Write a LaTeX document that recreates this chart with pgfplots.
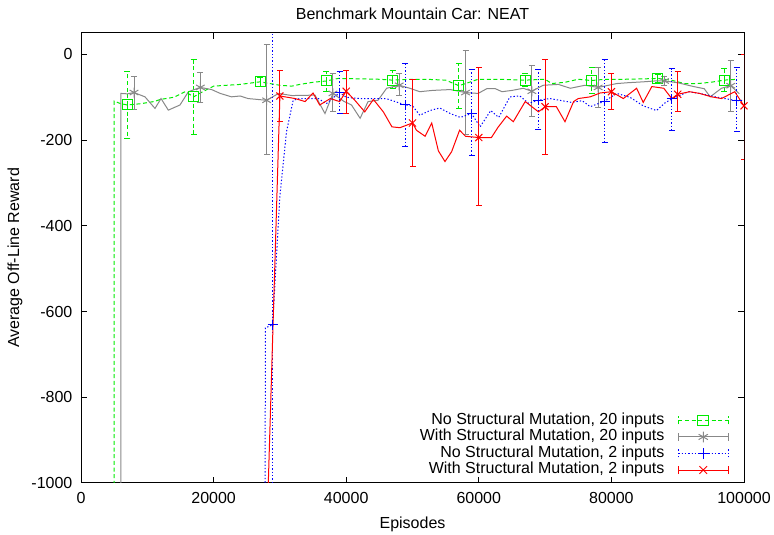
\documentclass[border=0pt]{standalone}
\usepackage{fontspec}
\setmainfont{Liberation Sans}
\usepackage{pgfplots}
\pgfplotsset{compat=1.18}
\definecolor{cgreen}{RGB}{0,235,0}
\definecolor{cgray}{RGB}{136,136,136}
\definecolor{cblue}{RGB}{0,0,255}
\definecolor{cred}{RGB}{255,0,0}
\tikzset{
  gdash/.style={dash pattern=on 3pt off 2pt},
  bdot/.style={dash pattern=on 1pt off 1.5pt},
}
\pgfplotsset{
  lgimg/.style={legend image code/.code={%
    \draw[##1,mark=none] (0pt,0pt) -- (37.5pt,0pt);
    \draw[##1,mark=none] (0pt,-3pt) -- (0pt,3pt) (37.5pt,-3pt) -- (37.5pt,3pt);
    \draw[##1,mark repeat=2,mark phase=2] plot coordinates {(0pt,0pt) (18.75pt,0pt) (37.5pt,0pt)};
  }},
}
\begin{document}
\fontsize{12}{14}\selectfont
\begin{tikzpicture}
\useasboundingbox (-60.75pt,-39pt) rectangle (519.75pt,362.25pt);
\begin{axis}[
  at={(0,0)}, anchor=south west,
  width=497.25pt, height=337.5pt, scale only axis,
  xmin=0, xmax=100000, ymin=-1000, ymax=50,
  xtick={0,20000,40000,60000,80000,100000},
  ytick={-1000,-800,-600,-400,-200,0},
  scaled x ticks=false, scaled y ticks=false,
  /pgf/number format/.cd, fixed, 1000 sep={}, assume math mode=true, /pgfplots/.cd,
  tick align=inside, tick pos=both, major tick length=4.5pt,
  axis line style={line width=0.75pt},
  every tick/.style={black, line width=0.75pt},
  xticklabel style={yshift=-3pt},
  yticklabel style={xshift=-2.25pt},
  title={Benchmark Mountain Car: NEAT},
  title style={at={(axis description cs:0.5,1.026)}, anchor=center, inner sep=0pt},
  xlabel={Episodes},
  xlabel style={at={(axis description cs:0.5,-0.091)}, anchor=center, inner sep=0pt},
  ylabel={Average Off-Line Reward},
  ylabel style={at={(axis description cs:-0.0995,0.5)}, anchor=center, inner sep=0pt},
  legend plot pos=right,
  legend cell align=right,
  legend style={at={(axis description cs:0.977,0.0105)}, anchor=south east,
    draw=none, fill=none, inner sep=0pt, outer sep=0pt,
    column sep=10pt,
    nodes={text height=9pt, text depth=3.4pt, inner ysep=0pt, inner xsep=0pt}},
]
\addlegendimage{lgimg, cgreen, gdash, line width=0.75pt, mark=square, mark size=4pt, mark options={solid}}
\addlegendentry{No Structural Mutation, 20 inputs}
\addlegendimage{lgimg, cgray, solid, line width=0.75pt, mark=asterisk, mark size=4pt, mark options={solid}}
\addlegendentry{With Structural Mutation, 20 inputs}
\addlegendimage{lgimg, cblue, bdot, line width=0.75pt, mark=+, mark size=4pt, mark options={solid}}
\addlegendentry{No Structural Mutation, 2 inputs}
\addlegendimage{lgimg, cred, solid, line width=0.75pt, mark=x, mark size=4pt, mark options={solid}}
\addlegendentry{With Structural Mutation, 2 inputs}

% green: no structural mutation, 20 inputs
\addplot[cgreen, gdash, line width=0.75pt, forget plot] coordinates {
(5000,-2000)(5000,-109)(6000,-115)(7000,-118)(9000,-115)(11000,-110)(12000,-105)(14000,-100)
(15700,-87)(17000,-99)(18000,-90)(20000,-74)(22000,-72)(24000,-70)(27000,-64)(28500,-68)
(30000,-72)(31800,-74)(33000,-70)(35000,-65)(37000,-62)(38800,-56)(42000,-57)(45000,-58)
(47000,-60)(49600,-58)(52000,-58)(55000,-60)(57000,-73)(58000,-68)(59900,-58)(63000,-58)
(67000,-60)(70000,-58)(71000,-68)(73000,-65)(75000,-58)(77000,-61)(79000,-58)(82000,-58)
(85000,-57)(87000,-56)(89000,-60)(91000,-68)(93000,-68)(95000,-65)(97000,-60)(99000,-58)};
\addplot[color=cgreen, only marks, mark=square, mark size=3.75pt, mark options={solid, line width=0.75pt}, forget plot,
  error bars/.cd, y dir=both, y explicit,
  error bar style={draw=cgreen, color=cgreen, gdash, line width=0.75pt},
  error mark options={draw=cgreen, color=cgreen, solid, rotate=90, line width=0.75pt, mark size=2.25pt}] coordinates {
(7000,-118) += (0,77) -= (0,78)
(17000,-99) += (0,88) -= (0,89)
(27000,-64) += (0,10) -= (0,10)
(37000,-62) += (0,21) -= (0,25)
(47000,-60) += (0,22) -= (0,19)
(57000,-73) += (0,52) -= (0,53)
(67000,-60) += (0,15) -= (0,15)
(77000,-61) += (0,31) -= (0,30)
(87000,-56) += (0,10) -= (0,10)
(97000,-60) += (0,27) -= (0,27)};

% gray: with structural mutation, 20 inputs
\addplot[cgray, solid, line width=0.75pt, forget plot] coordinates {
(6000,-2000)(6000,-91)(7000,-92)(8000,-89)(9650,-99)(11160,-126)(12070,-103)(13170,-130)
(14930,-118)(16200,-87)(18000,-77)(19700,-82)(21000,-91)(22700,-99)(24000,-97)(25200,-103)
(28000,-107)(29800,-91)(31800,-96)(35300,-95)(36800,-138)(38000,-91)(39600,-109)(40800,-118)
(42100,-149)(43300,-110)(44800,-107)(46100,-79)(48000,-72)(49600,-79)(51100,-87)(53000,-84)
(55700,-82)(58000,-89)(59900,-91)(61200,-80)(62500,-80)(63500,-87)(65000,-84)(66700,-79)
(68000,-86)(69700,-72)(72000,-70)(73800,-79)(76000,-72)(78000,-77)(80800,-68)(82500,-66)
(84800,-64)(86500,-62)(88000,-62)(90000,-66)(92400,-75)(94000,-80)(94900,-99)(96600,-79)
(98000,-73)(99300,-92)};
\addplot[color=cgray, only marks, mark=asterisk, mark size=3.75pt, mark options={solid, line width=0.75pt}, forget plot,
  error bars/.cd, y dir=both, y explicit,
  error bar style={draw=cgray, color=cgray, solid, line width=0.75pt},
  error mark options={draw=cgray, color=cgray, solid, rotate=90, line width=0.75pt, mark size=2.25pt}] coordinates {
(8000,-89) += (0,38) -= (0,39)
(18000,-77) += (0,35) -= (0,36)
(28000,-107) += (0,129) -= (0,126)
(38000,-91) += (0,47) -= (0,43)
(48000,-72) += (0,28) -= (0,24)
(58000,-89) += (0,97) -= (0,99)
(68000,-86) += (0,61) -= (0,60)
(78000,-77) += (0,47) -= (0,47)
(88000,-62) += (0,10) -= (0,10)
(98000,-73) += (0,58) -= (0,61)};

% blue: no structural mutation, 2 inputs
\addplot[cblue, bdot, line width=0.75pt, forget plot] coordinates {
(27700,-2500)(27800,-638)(28900,-631)(30000,-330)(31000,-180)(32000,-107)(33000,-103)(35800,-103)
(37000,-115)(39000,-89)(40000,-100)(42000,-103)(44000,-103)(46000,-103)(47000,-108)(48900,-118)
(50000,-120)(51100,-142)(52600,-131)(54100,-125)(55700,-138)(57200,-147)(58900,-138)(60200,-169)
(61800,-131)(63000,-147)(64700,-99)(66200,-97)(67500,-114)(69000,-107)(70700,-103)(72200,-107)
(74000,-112)(75600,-108)(76800,-122)(79000,-109)(80800,-91)(82800,-100)(84800,-120)(86800,-131)
(88100,-113)(89100,-104)(91600,-87)(93300,-91)(96000,-100)(98900,-108)(100000,-107)};
\addplot[color=cblue, only marks, mark=+, mark size=3.75pt, mark options={solid, line width=0.75pt}, forget plot,
  error bars/.cd, y dir=both, y explicit,
  error bar style={draw=cblue, color=cblue, bdot, line width=0.75pt},
  error mark options={draw=cblue, color=cblue, solid, rotate=90, line width=0.75pt, mark size=2.25pt}] coordinates {
(28900,-631) += (0,800) -= (0,800)
(39000,-89) += (0,48) -= (0,49)
(48900,-118) += (0,97) -= (0,97)
(58900,-138) += (0,103) -= (0,99)
(69000,-107) += (0,72) -= (0,68)
(79000,-109) += (0,97) -= (0,97)
(89100,-104) += (0,71) -= (0,73)
(98900,-108) += (0,78) -= (0,72)};

% red: with structural mutation, 2 inputs
\addplot[cred, solid, line width=0.75pt, forget plot] coordinates {
(28000,-1130)(30000,-97)(32300,-103)(33800,-110)(35000,-90)(36000,-118)(37600,-103)(39000,-110)
(40000,-86)(41300,-107)(42800,-134)(44100,-105)(45600,-134)(46900,-169)(48100,-171)(50000,-160)
(50600,-177)(51900,-191)(52900,-160)(53900,-225)(54900,-250)(55900,-227)(57100,-177)(58000,-191)
(60000,-194)(61900,-194)(62900,-170)(64200,-144)(65200,-157)(67000,-110)(69000,-134)(70000,-122)
(71700,-122)(73000,-157)(74300,-110)(75000,-103)(76800,-99)(78300,-90)(80000,-87)(81800,-103)
(83800,-79)(84800,-112)(86100,-75)(87900,-79)(89100,-103)(90000,-93)(91800,-87)(93300,-91)
(95100,-99)(96600,-103)(98600,-87)(100000,-120)};
\addplot[color=cred, only marks, mark=x, mark size=3.75pt, mark options={solid, line width=0.75pt}, forget plot,
  error bars/.cd, y dir=both, y explicit,
  error bar style={draw=cred, color=cred, solid, line width=0.75pt},
  error mark options={draw=cred, color=cred, solid, rotate=90, line width=0.75pt, mark size=2.25pt}] coordinates {
(30000,-97) += (0,60) -= (0,60)
(40000,-86) += (0,49) -= (0,52)
(50000,-160) += (0,102) -= (0,101)
(60000,-194) += (0,164) -= (0,158)
(70000,-122) += (0,110) -= (0,111)
(80000,-87) += (0,43) -= (0,41)
(90000,-93) += (0,53) -= (0,41)
(100000,-120) += (0,120) -= (0,125)};
\end{axis}
\end{tikzpicture}
\end{document}
